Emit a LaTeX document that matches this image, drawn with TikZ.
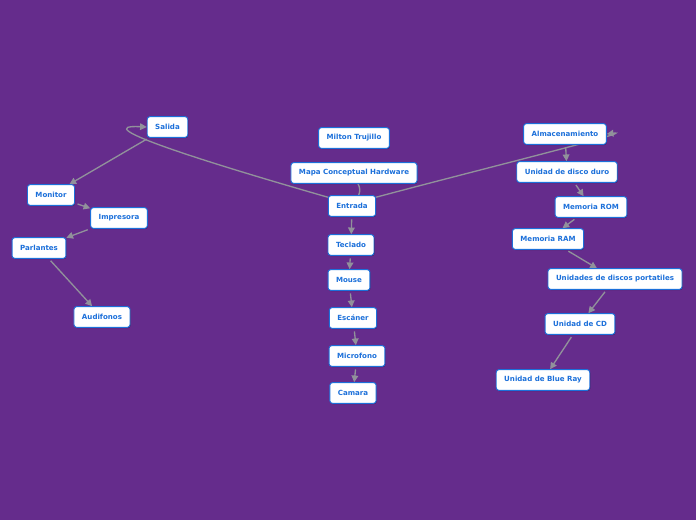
\documentclass[tikz,border=0pt]{standalone}
\usepackage{fontspec}
\setsansfont{DejaVu Sans}
\usetikzlibrary{arrows.meta,backgrounds,shadows}
\definecolor{mapbg}{RGB}{101,44,140}
\definecolor{mapblue}{RGB}{28,112,218}
\definecolor{linkgray}{RGB}{145,145,155}
\begin{document}
\begin{tikzpicture}[x=0.75pt,y=-0.75pt,font=\sffamily\bfseries\fontsize{5.3}{6.5}\selectfont,>={Triangle[length=5pt,width=5pt]},topic/.style={draw=mapblue, fill=white, text=mapblue, rounded corners=2pt, line width=0.7pt, inner xsep=6pt, minimum height=15.5pt, drop shadow={shadow xshift=0.4pt, shadow yshift=-0.6pt, opacity=0.35, fill=black}},link/.style={draw=linkgray, line width=1pt, ->, shorten <=2pt}]
\useasboundingbox (0,0) rectangle (696,520);
\begin{scope}[on background layer]\fill[mapbg] (0,0) rectangle (696,520);\end{scope}
% centre and title
\node[topic] (autor) at (354,138) {Milton Trujillo};
\node[topic] (mapa) at (354,173) {Mapa Conceptual Hardware};
\node[topic] (entrada) at (352,206) {Entrada};
\node[topic] (teclado) at (351,245) {Teclado};\node[topic] (mouse) at (349,280) {Mouse};
\node[topic] (escaner) at (353,318) {Escáner};\node[topic] (microfono) at (357,356) {Microfono};
\node[topic] (camara) at (353,393) {Camara};
% salida
\node[topic] (salida) at (167.5,127) {Salida};
\node[topic] (monitor) at (51,195) {Monitor};\node[topic] (impresora) at (119,218) {Impresora};
\node[topic] (parlantes) at (39,248) {Parlantes};\node[topic] (audifonos) at (102,317) {Audifonos};
% almacenamiento
\node[topic] (almac) at (565,134) {Almacenamiento};
\node[topic] (disco) at (567,172) {Unidad de disco duro};
\node[topic] (rom) at (591,207) {Memoria ROM};\node[topic] (ram) at (548,239) {Memoria RAM};
\node[topic] (portatil) at (615,279) {Unidades de discos portatiles};
\node[topic] (cd) at (580,324) {Unidad de CD};\node[topic] (bluray) at (543,380) {Unidad de Blue Ray};
\begin{scope}[on background layer]
\draw[draw=linkgray, line width=1pt] ([xshift=3pt]mapa.south) to[bend left=25] ([xshift=5pt]entrada.north);
\draw[link, shorten <=0pt] (entrada.160) .. controls (205,162) and (85,124) .. (salida.west);
\draw[link, shorten <=0pt] (entrada.20) .. controls (470,172) and (640,130) .. (almac.east);
\foreach \a/\b in {entrada/teclado,teclado/mouse,mouse/escaner,escaner/microfono,microfono/camara,salida/monitor,monitor/impresora,impresora/parlantes,parlantes/audifonos,almac/disco,disco/rom,rom/ram,ram/portatil,portatil/cd,cd/bluray}
  \draw[link] (\a) -- (\b);
\end{scope}
\end{tikzpicture}
\end{document}
